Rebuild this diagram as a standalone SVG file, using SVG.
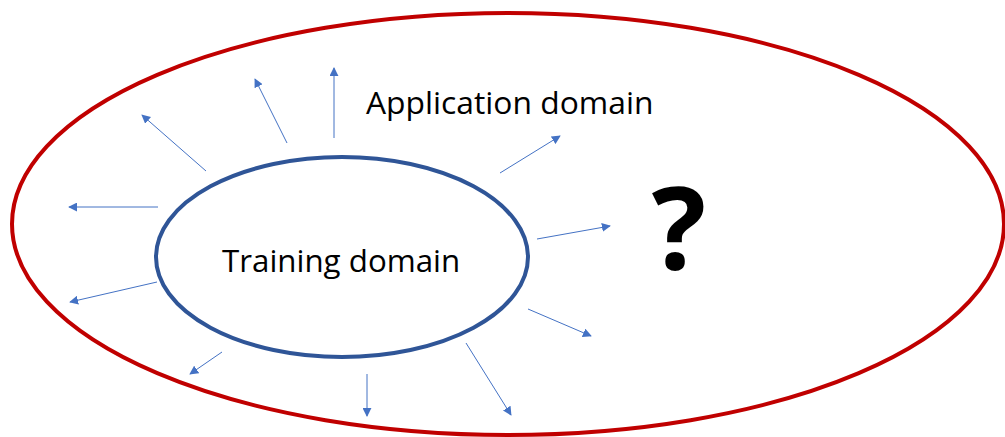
<svg xmlns="http://www.w3.org/2000/svg" width="1005" height="437" viewBox="0 0 1005 437">
<style>
.lbl{font-family:"Open Sans","Liberation Sans",sans-serif;fill:#000}
.arr{stroke:#4472C4;stroke-width:1;fill:none;marker-end:url(#ah)}
</style>
<defs>
<marker id="ah" viewBox="0 0 10 10" refX="9" refY="5" markerWidth="9" markerHeight="9" markerUnits="userSpaceOnUse" orient="auto">
<path d="M0,0 L10,5 L0,10 z" fill="#4472C4"/>
</marker>
</defs>
<rect width="1005" height="437" fill="#fff"/>
<g id="application-domain">
<ellipse cx="508" cy="224" rx="496" ry="211" fill="none" stroke="#C00000" stroke-width="4"/>
<text class="lbl" x="366" y="114" font-size="31.8">Application domain</text>
</g>
<g id="training-domain">
<ellipse cx="342" cy="257" rx="186" ry="100" fill="none" stroke="#2F5597" stroke-width="4"/>
<text class="lbl" x="222" y="272" font-size="31.3">Training domain</text>
</g>
<g id="question">
<text class="lbl" x="679" y="269" font-size="114" font-weight="bold" text-anchor="middle">?</text>
</g>
<g id="connectors">
<line class="arr" x1="334" y1="138" x2="334" y2="68"/>
<line class="arr" x1="287" y1="143" x2="255" y2="79"/>
<line class="arr" x1="206" y1="171" x2="142" y2="115"/>
<line class="arr" x1="158" y1="207" x2="69" y2="207"/>
<line class="arr" x1="157" y1="282" x2="70" y2="302"/>
<line class="arr" x1="222" y1="352" x2="190" y2="374"/>
<line class="arr" x1="367" y1="374" x2="367" y2="416"/>
<line class="arr" x1="466" y1="343" x2="511" y2="415"/>
<line class="arr" x1="528" y1="309" x2="591" y2="336"/>
<line class="arr" x1="537" y1="239" x2="610" y2="226"/>
<line class="arr" x1="500" y1="173" x2="560" y2="136"/>
</g>
</svg>
